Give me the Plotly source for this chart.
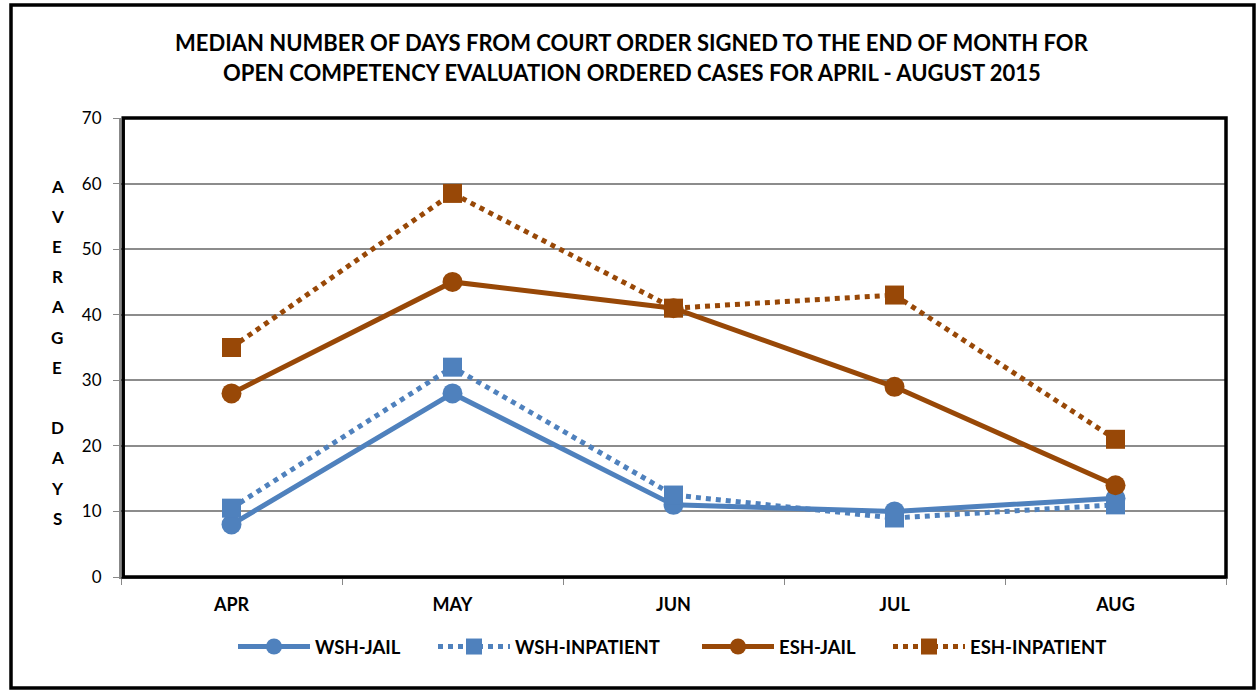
import plotly.graph_objects as go

months = ["APR", "MAY", "JUN", "JUL", "AUG"]
wsh_jail = [8, 28, 11, 10, 12]
wsh_inpatient = [10.5, 32, 12.5, 9, 11]
esh_jail = [28, 45, 41, 29, 14]
esh_inpatient = [35, 58.5, 41, 43, 21]
y_ticks = [0, 10, 20, 30, 40, 50, 60, 70]
title_lines = ["MEDIAN NUMBER OF DAYS FROM COURT ORDER SIGNED TO THE END OF MONTH FOR",
               "OPEN COMPETENCY EVALUATION ORDERED CASES FOR APRIL - AUGUST 2015"]
y_label_letters = ["A", "V", "E", "R", "A", "G", "E", "", "D", "A", "Y", "S"]

BLUE = "#4F81BD"
BROWN = "#984807"
FONT = "Lato, Carlito, Calibri, sans-serif"

W, H = 1257, 690
L, R, T, B = 121, 1226, 118, 577


def px_x(px):
    return (px - L) / (R - L)


def px_y(py):
    return (B - py) / (B - T)


series = [
    ("WSH-JAIL", wsh_jail, BLUE, "solid", "circle", 20, "legend", 236),
    ("WSH-INPATIENT", wsh_inpatient, BLUE, "dot", "square", 19, "legend2", 436),
    ("ESH-JAIL", esh_jail, BROWN, "solid", "circle", 20, "legend3", 700),
    ("ESH-INPATIENT", esh_inpatient, BROWN, "dot", "square", 19, "legend4", 891),
]

fig = go.Figure()
legend_layouts = {}
for name, vals, color, dash, sym, size, leg, lx in series:
    fig.add_trace(go.Scatter(x=months, y=vals, name=name, mode="lines+markers",
                             line=dict(color=color, width=5, dash=dash),
                             marker=dict(symbol=sym, size=size, color=color),
                             legend=leg))
    legend_layouts[leg] = dict(orientation="h", x=px_x(lx - 3), xanchor="left",
                               y=px_y(647), yanchor="middle",
                               font=dict(family=FONT, size=18.5, color="black", weight="bold"),
                               itemwidth=72, bgcolor="rgba(0,0,0,0)")

annotations = []
for i, line in enumerate(title_lines):
    annotations.append(dict(text=line, xref="paper", yref="paper",
                            x=px_x(632), y=px_y(42 + 30 * i), showarrow=False,
                            xanchor="center", yanchor="middle",
                            font=dict(family=FONT, size=22, color="black", weight="bold")))
for i, ch in enumerate(y_label_letters):
    if ch:
        annotations.append(dict(text=ch, xref="paper", yref="paper",
                                x=px_x(57), y=px_y(186 + 30.2 * i), showarrow=False,
                                xanchor="center", yanchor="middle",
                                font=dict(family=FONT, size=17, color="black", weight="bold")))

shapes = [
    # plot frame
    dict(type="rect", xref="paper", yref="paper", x0=0.002, x1=1.0, y0=0.0, y1=1.0,
         line=dict(color="black", width=3.5), layer="above"),
    # outer frame
    dict(type="rect", xref="paper", yref="paper", x0=px_x(11), x1=px_x(1254),
         y0=px_y(688), y1=px_y(5), line=dict(color="black", width=3.5)),
]

fig.update_layout(
    width=W, height=H,
    margin=dict(l=L, r=W - R, t=T, b=H - B),
    paper_bgcolor="white", plot_bgcolor="white",
    showlegend=True,
    annotations=annotations,
    shapes=shapes,
    xaxis=dict(type="category", range=[-0.5, 4.5], showgrid=False,
               ticks="outside", tickson="boundaries", ticklen=6, tickcolor="#888888",
               showline=True, linecolor="#888888", linewidth=2,
               tickfont=dict(family=FONT, size=18, color="black", weight="bold"),
               ticklabelstandoff=10),
    yaxis=dict(range=[0, 70], tickvals=y_ticks, showgrid=True, gridcolor="#8C8C8C", gridwidth=2,
               ticks="outside", ticklen=6, tickcolor="#888888",
               showline=True, linecolor="#888888", linewidth=2, zeroline=False,
               tickfont=dict(family=FONT, size=17, color="black"),
               ticklabelstandoff=8),
    **legend_layouts,
)

fig.write_html("out.html", config={"displayModeBar": False},
               post_script="document.body.style.margin='0px';")
